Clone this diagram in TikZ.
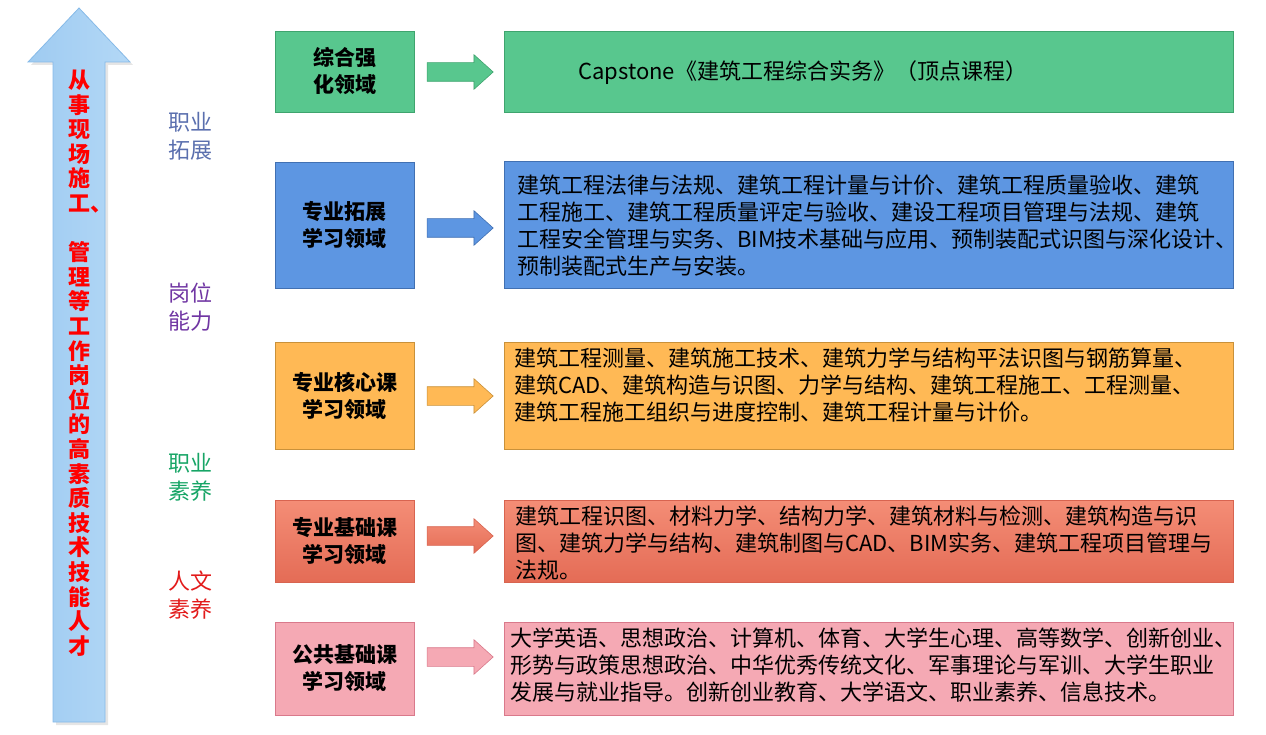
\documentclass[tikz,border=0pt]{standalone}
\usepackage{fontspec}
\setmainfont{Noto Sans CJK SC}
\usetikzlibrary{shapes.arrows}
\definecolor{gfill}{HTML}{58C78E}\definecolor{gdraw}{HTML}{3FA46E}
\definecolor{bfill}{HTML}{5D96E2}\definecolor{bdraw}{HTML}{4170B2}
\definecolor{ofill}{HTML}{FFB955}\definecolor{odraw}{HTML}{C9913A}
\definecolor{sfilltop}{HTML}{F48D76}\definecolor{sfillbot}{HTML}{E46C56}\definecolor{sdraw}{HTML}{D86450}
\definecolor{pfill}{HTML}{F5A9B4}\definecolor{pdraw}{HTML}{D9798B}
\definecolor{arrleft}{HTML}{9FCBF1}\definecolor{arrright}{HTML}{B3D8F6}\definecolor{arrdraw}{HTML}{86BAE8}
\definecolor{labblue}{HTML}{5A6FAE}\definecolor{labpurple}{HTML}{7036A3}
\definecolor{labgreen}{HTML}{17A566}\definecolor{labred}{HTML}{E21A1A}
\begin{document}
\begin{tikzpicture}[x=1pt,y=-1pt,
  leftbox/.style={draw, line width=0.8pt, minimum width=139pt, inner sep=0pt, align=center,
    font=\bfseries\fontsize{21}{27}\selectfont},
  rightbox/.style={draw, line width=0.8pt, minimum width=729pt, inner sep=0pt},
  boxtext/.style={anchor=west, inner sep=0pt, align=left, font=\fontsize{22}{27}\selectfont},
  blockarrow/.style={single arrow, draw, line width=0.6pt, minimum height=66pt,
    text height=0pt, text depth=0pt, text width=0pt, inner xsep=0pt, inner ysep=9pt,
    single arrow head extend=8pt, single arrow tip angle=84},
  sidelabel/.style={align=center, font=\fontsize{22}{28}\selectfont},
  vtext/.style={align=center, text=red, font=\bfseries\fontsize{22}{24.6}\selectfont}
]
\useasboundingbox (0,0) rectangle (1266,735);
% big upward arrow
\fill[black!10] (56,725) -- (56,65) -- (31,65) -- (82,11) -- (133,65) -- (108,65) -- (108,725) -- cycle;
\draw[left color=arrleft, right color=arrright, draw=arrdraw, line width=0.8pt]
  (53,722) -- (53,62) -- (28,62) -- (79,8) -- (130,62) -- (105,62) -- (105,722) -- cycle;
\node[vtext] (vt) at (79,363) {从\\事\\现\\场\\施\\工\rlap{、}\\\mbox{}\\管\\理\\等\\工\\作\\岗\\位\\的\\高\\素\\质\\技\\术\\技\\能\\人\\才};
% side labels
\node[sidelabel, text=labblue] (l1) at (190,136) {职业\\拓展};
\node[sidelabel, text=labpurple] (l2) at (190,307.5) {岗位\\能力};
\node[sidelabel, text=labgreen] (l3) at (190,477) {职业\\素养};
\node[sidelabel, text=labred] (l4) at (190,595.5) {人文\\素养};
% left boxes
\node[leftbox, fill=gfill, draw=gdraw, minimum height=81pt] (L1) at (344.5,71.5) {综合强\\化领域};
\node[leftbox, fill=bfill, draw=bdraw, minimum height=126pt] (L2) at (344.5,225) {专业拓展\\学习领域};
\node[leftbox, fill=ofill, draw=odraw, minimum height=107pt] (L3) at (344.5,395.5) {专业核心课\\学习领域};
\node[leftbox, top color=sfilltop, bottom color=sfillbot, draw=sdraw, minimum height=82pt] (L4) at (344.5,541) {专业基础课\\学习领域};
\node[leftbox, fill=pfill, draw=pdraw, minimum height=93pt] (L5) at (344.5,668.5) {公共基础课\\学习领域};
% right boxes
\node[rightbox, fill=gfill, draw=gdraw, minimum height=81pt] (R1) at (868.5,71.5) {};
\node[rightbox, fill=bfill, draw=bdraw, minimum height=127pt] (R2) at (868.5,224.5) {};
\node[rightbox, fill=ofill, draw=odraw, minimum height=107pt] (R3) at (868.5,395.5) {};
\node[rightbox, top color=sfilltop, bottom color=sfillbot, draw=sdraw, minimum height=82pt] (R4) at (868.5,541) {};
\node[rightbox, fill=pfill, draw=pdraw, minimum height=93pt] (R5) at (868.5,668.5) {};
% block arrows
\node[blockarrow, fill=gfill, draw=gdraw] (A1) at (455,72) {};
\node[blockarrow, fill=bfill, draw=bdraw] (A2) at (455,228) {};
\node[blockarrow, fill=ofill, draw=odraw] (A3) at (455,396) {};
\node[blockarrow, top color=sfilltop, bottom color=sfillbot, draw=sdraw] (A4) at (455,536) {};
\node[blockarrow, fill=pfill, draw=pdraw] (A5) at (455,657) {};
% texts
\node[boxtext] (T1) at (578,73) {Capstone《建筑工程综合实务》（顶点课程）};
\node[boxtext, anchor=north west] (T2) at (517,175) {建筑工程法律与法规、建筑工程计量与计价、建筑工程质量验收、建筑\\工程施工、建筑工程质量评定与验收、建设工程项目管理与法规、建筑\\工程安全管理与实务、BIM技术基础与应用、预制装配式识图与深化设计、\\预制装配式生产与安装。};
\node[boxtext, anchor=north west] (T3) at (514,348) {建筑工程测量、建筑施工技术、建筑力学与结构平法识图与钢筋算量、\\建筑CAD、建筑构造与识图、力学与结构、建筑工程施工、工程测量、\\建筑工程施工组织与进度控制、建筑工程计量与计价。};
\node[boxtext, anchor=north west] (T4) at (515,506) {建筑工程识图、材料力学、结构力学、建筑材料与检测、建筑构造与识\\图、建筑力学与结构、建筑制图与CAD、BIM实务、建筑工程项目管理与\\法规。};
\node[boxtext, anchor=north west] (T5) at (510,628) {大学英语、思想政治、计算机、体育、大学生心理、高等数学、创新创业、\\形势与政策思想政治、中华优秀传统文化、军事理论与军训、大学生职业\\发展与就业指导。创新创业教育、大学语文、职业素养、信息技术。};
\end{tikzpicture}
\end{document}
